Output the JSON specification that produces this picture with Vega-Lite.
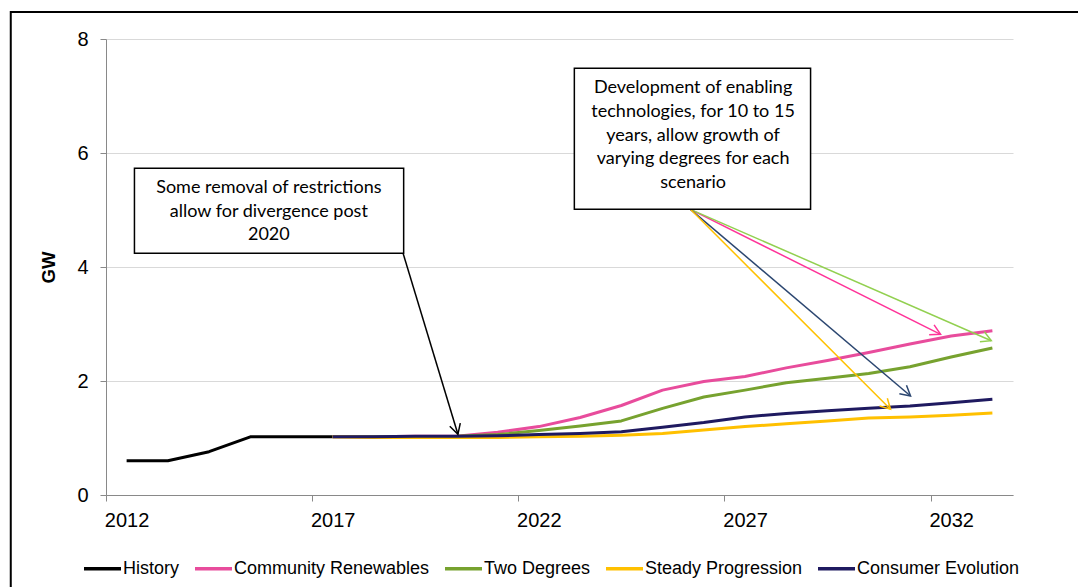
{
  "$schema": "https://vega.github.io/schema/vega-lite/v6.json",
  "width": 907,
  "height": 456,
  "autosize": {"type": "none"},
  "padding": {"left": 106, "top": 39, "right": 65, "bottom": 92},
  "background": "white",
  "config": {
    "view": {"stroke": null},
    "font": "Liberation Sans",
    "axis": {
      "labelFont": "Liberation Sans",
      "labelFontSize": 20,
      "labelColor": "#000000",
      "titleFont": "Liberation Sans",
      "titleFontSize": 18.67,
      "titleFontWeight": "bold",
      "titleColor": "#000000",
      "tickSize": 6,
      "tickColor": "#898989",
      "domainColor": "#898989",
      "gridColor": "#D9D9D9",
      "gridWidth": 1
    },
    "legend": {
      "labelFont": "Liberation Sans",
      "labelFontSize": 18,
      "labelColor": "#000000"
    }
  },
  "datasets": {
    "capacity": [
      {"year": 2012, "scenario": "History", "gw": 0.6},
      {"year": 2013, "scenario": "History", "gw": 0.6},
      {"year": 2014, "scenario": "History", "gw": 0.76},
      {"year": 2015, "scenario": "History", "gw": 1.02},
      {"year": 2016, "scenario": "History", "gw": 1.02},
      {"year": 2017, "scenario": "History", "gw": 1.02},
      {"year": 2017, "scenario": "Community Renewables", "gw": 1.02},
      {"year": 2018, "scenario": "Community Renewables", "gw": 1.02},
      {"year": 2019, "scenario": "Community Renewables", "gw": 1.03},
      {"year": 2020, "scenario": "Community Renewables", "gw": 1.03},
      {"year": 2021, "scenario": "Community Renewables", "gw": 1.1},
      {"year": 2022, "scenario": "Community Renewables", "gw": 1.2},
      {"year": 2023, "scenario": "Community Renewables", "gw": 1.36},
      {"year": 2024, "scenario": "Community Renewables", "gw": 1.57},
      {"year": 2025, "scenario": "Community Renewables", "gw": 1.84},
      {"year": 2026, "scenario": "Community Renewables", "gw": 1.99},
      {"year": 2027, "scenario": "Community Renewables", "gw": 2.08},
      {"year": 2028, "scenario": "Community Renewables", "gw": 2.23},
      {"year": 2029, "scenario": "Community Renewables", "gw": 2.36},
      {"year": 2030, "scenario": "Community Renewables", "gw": 2.5},
      {"year": 2031, "scenario": "Community Renewables", "gw": 2.65},
      {"year": 2032, "scenario": "Community Renewables", "gw": 2.79},
      {"year": 2033, "scenario": "Community Renewables", "gw": 2.88},
      {"year": 2017, "scenario": "Two Degrees", "gw": 1.02},
      {"year": 2018, "scenario": "Two Degrees", "gw": 1.02},
      {"year": 2019, "scenario": "Two Degrees", "gw": 1.02},
      {"year": 2020, "scenario": "Two Degrees", "gw": 1.03},
      {"year": 2021, "scenario": "Two Degrees", "gw": 1.06},
      {"year": 2022, "scenario": "Two Degrees", "gw": 1.13},
      {"year": 2023, "scenario": "Two Degrees", "gw": 1.21},
      {"year": 2024, "scenario": "Two Degrees", "gw": 1.3},
      {"year": 2025, "scenario": "Two Degrees", "gw": 1.52},
      {"year": 2026, "scenario": "Two Degrees", "gw": 1.72},
      {"year": 2027, "scenario": "Two Degrees", "gw": 1.84},
      {"year": 2028, "scenario": "Two Degrees", "gw": 1.97},
      {"year": 2029, "scenario": "Two Degrees", "gw": 2.05},
      {"year": 2030, "scenario": "Two Degrees", "gw": 2.13},
      {"year": 2031, "scenario": "Two Degrees", "gw": 2.25},
      {"year": 2032, "scenario": "Two Degrees", "gw": 2.42},
      {"year": 2033, "scenario": "Two Degrees", "gw": 2.58},
      {"year": 2017, "scenario": "Steady Progression", "gw": 1.02},
      {"year": 2018, "scenario": "Steady Progression", "gw": 1.01},
      {"year": 2019, "scenario": "Steady Progression", "gw": 1.01},
      {"year": 2020, "scenario": "Steady Progression", "gw": 1.01},
      {"year": 2021, "scenario": "Steady Progression", "gw": 1.01},
      {"year": 2022, "scenario": "Steady Progression", "gw": 1.02},
      {"year": 2023, "scenario": "Steady Progression", "gw": 1.03},
      {"year": 2024, "scenario": "Steady Progression", "gw": 1.05},
      {"year": 2025, "scenario": "Steady Progression", "gw": 1.08},
      {"year": 2026, "scenario": "Steady Progression", "gw": 1.14},
      {"year": 2027, "scenario": "Steady Progression", "gw": 1.2},
      {"year": 2028, "scenario": "Steady Progression", "gw": 1.25},
      {"year": 2029, "scenario": "Steady Progression", "gw": 1.3},
      {"year": 2030, "scenario": "Steady Progression", "gw": 1.35},
      {"year": 2031, "scenario": "Steady Progression", "gw": 1.37},
      {"year": 2032, "scenario": "Steady Progression", "gw": 1.4},
      {"year": 2033, "scenario": "Steady Progression", "gw": 1.44},
      {"year": 2017, "scenario": "Consumer Evolution", "gw": 1.02},
      {"year": 2018, "scenario": "Consumer Evolution", "gw": 1.02},
      {"year": 2019, "scenario": "Consumer Evolution", "gw": 1.03},
      {"year": 2020, "scenario": "Consumer Evolution", "gw": 1.03},
      {"year": 2021, "scenario": "Consumer Evolution", "gw": 1.04},
      {"year": 2022, "scenario": "Consumer Evolution", "gw": 1.06},
      {"year": 2023, "scenario": "Consumer Evolution", "gw": 1.08},
      {"year": 2024, "scenario": "Consumer Evolution", "gw": 1.11},
      {"year": 2025, "scenario": "Consumer Evolution", "gw": 1.19},
      {"year": 2026, "scenario": "Consumer Evolution", "gw": 1.27},
      {"year": 2027, "scenario": "Consumer Evolution", "gw": 1.37},
      {"year": 2028, "scenario": "Consumer Evolution", "gw": 1.43},
      {"year": 2029, "scenario": "Consumer Evolution", "gw": 1.48},
      {"year": 2030, "scenario": "Consumer Evolution", "gw": 1.52},
      {"year": 2031, "scenario": "Consumer Evolution", "gw": 1.56},
      {"year": 2032, "scenario": "Consumer Evolution", "gw": 1.62},
      {"year": 2033, "scenario": "Consumer Evolution", "gw": 1.68}
    ],
    "frame": [
      {"left": 2009.19, "right": 2035.2, "top": 8.474, "bottom": -1.7}
    ],
    "boxes": [
      {"left": 2012.19, "right": 2018.72, "top": 5.732, "bottom": 4.24},
      {"left": 2022.86, "right": 2028.59, "top": 7.486, "bottom": 5.012}
    ],
    "notes": [
      {"note": "Some removal of restrictions\nallow for divergence post\n2020", "year": 2015.45, "gw": 5.386},
      {"note": "Development of enabling\ntechnologies, for 10 to 15\nyears, allow growth of\nvarying degrees for each\nscenario", "year": 2025.74, "gw": 7.135}
    ],
    "arrows": [
      {"target": "2020", "fromYear": 2018.706, "fromGW": 4.24, "toYear": 2020.036, "toGW": 1.065},
      {"target": "Community Renewables", "fromYear": 2025.675, "fromGW": 5.012, "toYear": 2031.743, "toGW": 2.819},
      {"target": "Two Degrees", "fromYear": 2025.675, "fromGW": 5.012, "toYear": 2032.973, "toGW": 2.707},
      {"target": "Consumer Evolution", "fromYear": 2025.675, "fromGW": 5.012, "toYear": 2031.015, "toGW": 1.737},
      {"target": "Steady Progression", "fromYear": 2025.675, "fromGW": 5.012, "toYear": 2030.529, "toGW": 1.504}
    ]
  },
  "layer": [
    {
      "data": {"name": "capacity"},
      "mark": {"type": "line", "strokeWidth": 3, "strokeJoin": "round"},
      "encoding": {
        "x": {
          "field": "year", "type": "quantitative",
          "scale": {"domain": [2011.5, 2033.5], "nice": false, "zero": false},
          "axis": {
            "title": null,
            "values": [2011.5, 2016.5, 2021.5, 2026.5, 2031.5],
            "labelExpr": "format(datum.value + 0.5, 'd')",
            "labelOffset": 20.6,
            "labelPadding": 9,
            "labelFlush": false,
            "labelOverlap": false,
            "grid": false
          }
        },
        "y": {
          "field": "gw", "type": "quantitative",
          "scale": {"domain": [0, 8], "nice": false},
          "axis": {
            "title": "GW",
            "titlePadding": 18,
            "values": [0, 2, 4, 6, 8],
            "labelExpr": "format(datum.value, 'd')",
            "labelPadding": 12,
            "grid": true
          }
        },
        "color": {
          "field": "scenario", "type": "nominal",
          "scale": {
            "domain": ["History", "Community Renewables", "Two Degrees", "Steady Progression", "Consumer Evolution"],
            "range": ["#000000", "#E84C9C", "#77A22F", "#FFC000", "#1F1A60"]
          },
          "legend": {
            "title": null,
            "orient": "none",
            "legendX": -24,
            "legendY": 509,
            "direction": "horizontal",
            "columns": 5,
            "padding": 0,
            "symbolType": "stroke",
            "symbolSize": 1369,
            "symbolStrokeWidth": 3.5,
            "labelFontSize": 18,
            "labelOffset": 0,
            "columnPadding": 8,
            "labelLimit": 300
          }
        }
      }
    },
    {
      "data": {"name": "frame"},
      "mark": {"type": "rect", "filled": false, "color": "black", "strokeWidth": 2},
      "encoding": {
        "x": {"field": "left", "type": "quantitative", "scale": {"domain": [2011.5, 2033.5], "nice": false, "zero": false}},
        "x2": {"field": "right"},
        "y": {"field": "top", "type": "quantitative", "scale": {"domain": [0, 8], "nice": false}},
        "y2": {"field": "bottom"}
      }
    },
    {
      "data": {"name": "arrows"},
      "mark": {"type": "rule", "strokeWidth": 1.5},
      "encoding": {
        "x": {"field": "fromYear", "type": "quantitative", "scale": {"domain": [2011.5, 2033.5], "nice": false, "zero": false}},
        "y": {"field": "fromGW", "type": "quantitative", "scale": {"domain": [0, 8], "nice": false}},
        "x2": {"field": "toYear"},
        "y2": {"field": "toGW"},
        "stroke": {
          "field": "target", "type": "nominal", "legend": null,
          "scale": {
            "domain": ["2020", "Community Renewables", "Two Degrees", "Steady Progression", "Consumer Evolution"],
            "range": ["#000000", "#FF3399", "#92D050", "#FFC000", "#2B4670"]
          }
        }
      }
    },
    {
      "data": {"name": "arrows"},
      "transform": [{"filter": "datum.target === '2020'"}],
      "mark": {"type": "point", "shape": "M -1 -0.55 L 0 0 L -1 0.55", "size": 400, "angle": 73.2, "filled": false, "strokeWidth": 1.5, "opacity": 1},
      "encoding": {
        "x": {"field": "toYear", "type": "quantitative", "scale": {"domain": [2011.5, 2033.5], "nice": false, "zero": false}},
        "y": {"field": "toGW", "type": "quantitative", "scale": {"domain": [0, 8], "nice": false}},
        "stroke": {"field": "target", "type": "nominal", "legend": null}
      }
    },
    {
      "data": {"name": "arrows"},
      "transform": [{"filter": "datum.target === 'Community Renewables'"}],
      "mark": {"type": "point", "shape": "M -1 -0.55 L 0 0 L -1 0.55", "size": 400, "angle": 26.6, "filled": false, "strokeWidth": 1.5, "opacity": 1},
      "encoding": {
        "x": {"field": "toYear", "type": "quantitative", "scale": {"domain": [2011.5, 2033.5], "nice": false, "zero": false}},
        "y": {"field": "toGW", "type": "quantitative", "scale": {"domain": [0, 8], "nice": false}},
        "stroke": {"field": "target", "type": "nominal", "legend": null}
      }
    },
    {
      "data": {"name": "arrows"},
      "transform": [{"filter": "datum.target === 'Two Degrees'"}],
      "mark": {"type": "point", "shape": "M -1 -0.55 L 0 0 L -1 0.55", "size": 400, "angle": 23.6, "filled": false, "strokeWidth": 1.5, "opacity": 1},
      "encoding": {
        "x": {"field": "toYear", "type": "quantitative", "scale": {"domain": [2011.5, 2033.5], "nice": false, "zero": false}},
        "y": {"field": "toGW", "type": "quantitative", "scale": {"domain": [0, 8], "nice": false}},
        "stroke": {"field": "target", "type": "nominal", "legend": null}
      }
    },
    {
      "data": {"name": "arrows"},
      "transform": [{"filter": "datum.target === 'Consumer Evolution'"}],
      "mark": {"type": "point", "shape": "M -1 -0.55 L 0 0 L -1 0.55", "size": 400, "angle": 40.3, "filled": false, "strokeWidth": 1.5, "opacity": 1},
      "encoding": {
        "x": {"field": "toYear", "type": "quantitative", "scale": {"domain": [2011.5, 2033.5], "nice": false, "zero": false}},
        "y": {"field": "toGW", "type": "quantitative", "scale": {"domain": [0, 8], "nice": false}},
        "stroke": {"field": "target", "type": "nominal", "legend": null}
      }
    },
    {
      "data": {"name": "arrows"},
      "transform": [{"filter": "datum.target === 'Steady Progression'"}],
      "mark": {"type": "point", "shape": "M -1 -0.55 L 0 0 L -1 0.55", "size": 400, "angle": 45, "filled": false, "strokeWidth": 1.5, "opacity": 1},
      "encoding": {
        "x": {"field": "toYear", "type": "quantitative", "scale": {"domain": [2011.5, 2033.5], "nice": false, "zero": false}},
        "y": {"field": "toGW", "type": "quantitative", "scale": {"domain": [0, 8], "nice": false}},
        "stroke": {"field": "target", "type": "nominal", "legend": null}
      }
    },
    {
      "data": {"name": "boxes"},
      "mark": {"type": "rect", "fill": "white", "stroke": "black", "strokeWidth": 1.5},
      "encoding": {
        "x": {"field": "left", "type": "quantitative", "scale": {"domain": [2011.5, 2033.5], "nice": false, "zero": false}},
        "x2": {"field": "right"},
        "y": {"field": "top", "type": "quantitative", "scale": {"domain": [0, 8], "nice": false}},
        "y2": {"field": "bottom"}
      }
    },
    {
      "data": {"name": "notes"},
      "mark": {"type": "text", "lineBreak": "\n", "font": "Lato", "fontSize": 18, "lineHeight": 23.7, "align": "center", "baseline": "middle", "color": "#000000"},
      "encoding": {
        "x": {"field": "year", "type": "quantitative", "scale": {"domain": [2011.5, 2033.5], "nice": false, "zero": false}},
        "y": {"field": "gw", "type": "quantitative", "scale": {"domain": [0, 8], "nice": false}},
        "text": {"field": "note"}
      }
    }
  ]
}
